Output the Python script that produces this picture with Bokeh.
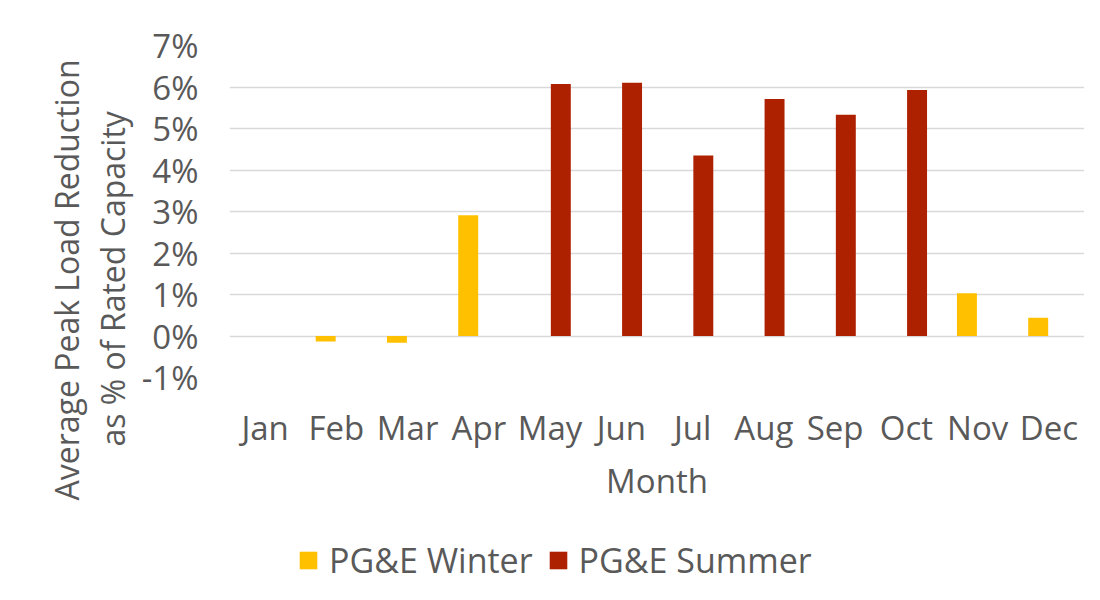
from bokeh.plotting import figure
from bokeh.layouts import column
from bokeh.models import (FactorRange, Range1d, FixedTicker, NumeralTickFormatter,
                          Legend, LegendItem, Title, ColumnDataSource)
from bokeh.transform import dodge
from bokeh.embed import file_html
from bokeh.resources import INLINE

months = ["Jan", "Feb", "Mar", "Apr", "May", "Jun", "Jul", "Aug", "Sep", "Oct", "Nov", "Dec"]
winter = [float("nan"), -0.0013, -0.0016, 0.0291, float("nan"), float("nan"), float("nan"),
          float("nan"), float("nan"), float("nan"), 0.0103, 0.0044]
summer = [float("nan"), float("nan"), float("nan"), float("nan"), 0.0607, 0.0610, 0.0435,
          0.0571, 0.0533, 0.0593, float("nan"), float("nan")]
y_ticks = [-0.01, 0.0, 0.01, 0.02, 0.03, 0.04, 0.05, 0.06, 0.07]
y_title = ["Average Peak Load Reduction", "as % of Rated  Capacity"]
x_title = "Month"
series_names = ["PG&E Winter", "PG&E Summer"]

FONT = "Open Sans"
TXT = "#595959"
WINTER_C = "#FFC000"
SUMMER_C = "#AE2100"
FS = "33px"
TOP_H = 510

src = ColumnDataSource(dict(month=months, winter=winter, summer=summer))
p = figure(width=1084, height=TOP_H, output_backend="svg", toolbar_location=None,
           x_range=FactorRange(*months, range_padding=0), y_range=Range1d(-0.01, 0.07),
           min_border_left=229, min_border_right=0, min_border_top=45,
           min_border_bottom=TOP_H - 377)
p.outline_line_color = None

p.vbar(x=dodge("month", -0.15, range=p.x_range), top="winter", bottom=0, width=0.28,
       source=src, fill_color=WINTER_C, line_color=None)
p.vbar(x=dodge("month", 0.15, range=p.x_range), top="summer", bottom=0, width=0.28,
       source=src, fill_color=SUMMER_C, line_color=None)

p.xgrid.grid_line_color = None
p.ygrid.grid_line_color = "#D9D9D9"
p.ygrid.grid_line_width = 1.3

p.yaxis.ticker = FixedTicker(ticks=y_ticks)
p.yaxis.formatter = NumeralTickFormatter(format="0%")

for ax in (p.xaxis[0], p.yaxis[0]):
    ax.axis_line_color = None
    ax.major_tick_line_color = None
    ax.minor_tick_line_color = None
    ax.major_tick_out = 0
    ax.major_tick_in = 0
    ax.minor_tick_out = 0
    ax.minor_tick_in = 0
    ax.major_label_text_font = FONT
    ax.major_label_text_color = TXT
    ax.major_label_text_font_size = FS
    ax.axis_label_text_font = FONT
    ax.axis_label_text_color = TXT
    ax.axis_label_text_font_style = "normal"
    ax.axis_label_text_font_size = FS
p.yaxis.major_label_standoff = 31
p.xaxis.major_label_standoff = 27
p.xaxis.axis_label = x_title
p.xaxis.axis_label_standoff = 5

# two-line rotated y title, placed below the frame centre as in the original
for txt, off, sd, va in ((y_title[1], -69, 6, "top"), (y_title[0], -123, 0, "bottom")):
    p.add_layout(Title(text=txt, align="left", offset=off, standoff=sd, vertical_align=va,
                       text_font=FONT, text_font_size="32px", text_color=TXT,
                       text_font_style="normal"), "left")

# legend strip below the chart
lg = figure(width=1084, height=584 - TOP_H, output_backend="svg", toolbar_location=None,
            x_range=Range1d(0, 1), y_range=Range1d(0, 1),
            x_axis_type=None, y_axis_type=None, min_border=0)
lg.outline_line_color = None
lg.grid.visible = False
nan = float("nan")
lw = lg.vbar(x=[nan], top=[nan], width=0.1, fill_color=WINTER_C, line_color=None)
ls = lg.vbar(x=[nan], top=[nan], width=0.1, fill_color=SUMMER_C, line_color=None)
legend = Legend(items=[LegendItem(label=series_names[0], renderers=[lw]),
                       LegendItem(label=series_names[1], renderers=[ls])],
                orientation="horizontal", location=(68, 1),
                label_text_font=FONT, label_text_font_size="34px", label_text_color=TXT,
                glyph_width=22, glyph_height=22, padding=0, margin=0, spacing=14,
                label_standoff=10, border_line_color=None, background_fill_alpha=0)
lg.add_layout(legend, "center")

open("out.html", "w").write(file_html(column(p, lg), INLINE))
